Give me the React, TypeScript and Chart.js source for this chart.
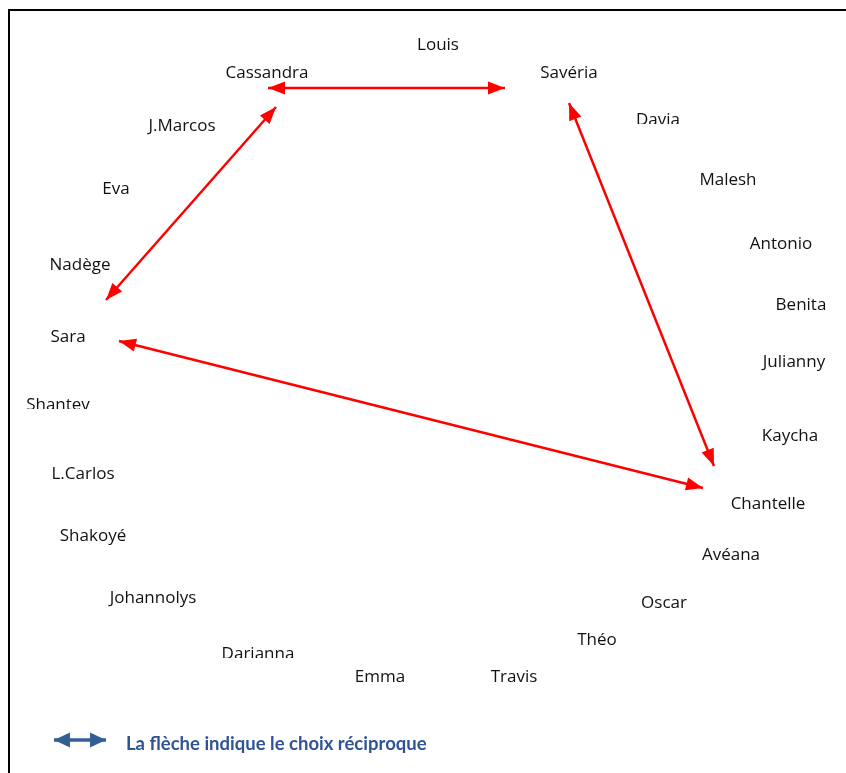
import React, { useEffect, useRef } from "react";
import { Chart, registerables } from "chart.js";

Chart.register(...registerables);

// Sociogram: names and their positions on the plane
const names = [
  "Louis", "Cassandra", "Savéria", "J.Marcos", "Davia", "Eva", "Malesh", "Antonio",
  "Nadège", "Benita", "Sara", "Julianny", "Shantev", "Kaycha", "L.Carlos", "Chantelle",
  "Shakoyé", "Avéana", "Johannolys", "Oscar", "Théo", "Darianna", "Emma", "Travis",
];
const nameX = [438, 267, 569, 182, 658, 116, 728, 781, 80, 801, 68, 794, 58, 790, 83, 768, 93, 731, 153, 664, 597, 258, 380, 514];
const nameY = [45, 73, 73, 126, 120, 189, 180, 244, 265, 305, 337, 362, 405, 436, 474, 504, 536, 555, 598, 603, 640, 654, 677, 677];
// names whose lower part is cut off in the source picture
const clippedNames = ["Davia", "Shantev", "Darianna"];

// Reciprocal choices (arrow tips at both ends)
const reciprocalFrom = ["Cassandra", "Cassandra", "Savéria", "Sara"];
const reciprocalTo = ["Savéria", "Sara", "Chantelle", "Chantelle"];
const arrowStartX = [268, 276, 569, 119];
const arrowStartY = [88, 107, 103, 341];
const arrowEndX = [505, 106, 714, 703];
const arrowEndY = [88, 300, 466, 488];

const legendText = "La flèche indique le choix réciproque";
const legendArrowX = [54, 106];
const legendArrowY = [740, 740];

export default function App() {
  const ref = useRef<HTMLCanvasElement>(null);
  useEffect(() => {
    const canvas = ref.current!;
    const arrowDatasets = arrowStartX.map((_, i) => ({
      label: reciprocalFrom[i] + " ↔ " + reciprocalTo[i],
      data: [
        { x: arrowStartX[i], y: arrowStartY[i] },
        { x: arrowEndX[i], y: arrowEndY[i] },
      ],
      showLine: true,
      borderColor: "#FF0000",
      borderWidth: 2.5,
      pointRadius: 0,
      arrow: true,
    }));
    const legendDataset = {
      label: "legend",
      data: [
        { x: legendArrowX[0], y: legendArrowY[0] },
        { x: legendArrowX[1], y: legendArrowY[1] },
      ],
      showLine: true,
      borderColor: "#335F95",
      borderWidth: 3.5,
      pointRadius: 0,
      arrow: true,
    };
    const namesDataset = {
      label: "names",
      data: names.map((_, i) => ({ x: nameX[i], y: nameY[i] })),
      pointRadius: 0,
      showLine: false,
    };

    const drawHead = (ctx: CanvasRenderingContext2D, tx: number, ty: number, fx: number, fy: number, color: string, len: number, wid: number) => {
      const a = Math.atan2(ty - fy, tx - fx);
      ctx.save();
      ctx.fillStyle = color;
      ctx.beginPath();
      ctx.moveTo(tx, ty);
      ctx.lineTo(tx - len * Math.cos(a) + (wid / 2) * Math.sin(a), ty - len * Math.sin(a) - (wid / 2) * Math.cos(a));
      ctx.lineTo(tx - len * Math.cos(a) - (wid / 2) * Math.sin(a), ty - len * Math.sin(a) + (wid / 2) * Math.cos(a));
      ctx.closePath();
      ctx.fill();
      ctx.restore();
    };

    const plugin = {
      id: "sociogram",
      afterDatasetsDraw(chart: any) {
        const ctx = chart.ctx as CanvasRenderingContext2D;
        const xs = chart.scales.x;
        const ys = chart.scales.y;
        // frame
        ctx.save();
        ctx.strokeStyle = "#000";
        ctx.lineWidth = 2;
        ctx.beginPath();
        ctx.moveTo(xs.getPixelForValue(9), ys.getPixelForValue(773));
        ctx.lineTo(xs.getPixelForValue(9), ys.getPixelForValue(10));
        ctx.lineTo(xs.getPixelForValue(846), ys.getPixelForValue(10));
        ctx.stroke();
        ctx.restore();
        // arrowheads
        chart.data.datasets.forEach((ds: any) => {
          if (!ds.arrow) return;
          const p = ds.data.map((d: any) => [xs.getPixelForValue(d.x), ys.getPixelForValue(d.y)]);
          const big = ds.label === "legend";
          const len = big ? 16 : 17;
          const wid = big ? 15 : 13;
          drawHead(ctx, p[0][0], p[0][1], p[1][0], p[1][1], ds.borderColor, len, wid);
          drawHead(ctx, p[1][0], p[1][1], p[0][0], p[0][1], ds.borderColor, len, wid);
        });
        // names
        ctx.save();
        ctx.fillStyle = "#111";
        ctx.font = "17px 'Open Sans', sans-serif";
        ctx.textAlign = "center";
        ctx.textBaseline = "middle";
        names.forEach((n, i) => {
          const px = xs.getPixelForValue(nameX[i]);
          const py = ys.getPixelForValue(nameY[i]);
          if (clippedNames.includes(n)) {
            ctx.save();
            ctx.beginPath();
            ctx.rect(px - 60, py - 20, 120, 24);
            ctx.clip();
            ctx.fillText(n, px, py);
            ctx.restore();
          } else {
            ctx.fillText(n, px, py);
          }
        });
        // legend text
        ctx.fillStyle = "#2F5496";
        ctx.font = "bold 18.5px Lato, sans-serif";
        ctx.textAlign = "left";
        ctx.fillText(legendText, xs.getPixelForValue(126), ys.getPixelForValue(744));
        ctx.restore();
      },
    };

    const chart = new Chart(canvas, {
      type: "scatter",
      data: { datasets: [namesDataset, ...arrowDatasets, legendDataset] as any },
      options: {
        animation: false,
        responsive: false,
        layout: { padding: 0 },
        plugins: { legend: { display: false }, tooltip: { enabled: false } },
        scales: {
          x: { type: "linear", min: 0, max: 846, display: false },
          y: { type: "linear", min: 0, max: 773, reverse: true, display: false },
        },
      },
      plugins: [plugin],
    });
    return () => chart.destroy();
  }, []);
  return (
    <div style={{ position: "absolute", left: 0, top: 0, width: 846, height: 773, background: "#fff" }}>
      <canvas ref={ref} width={846} height={773} style={{ display: "block" }} />
    </div>
  );
}
